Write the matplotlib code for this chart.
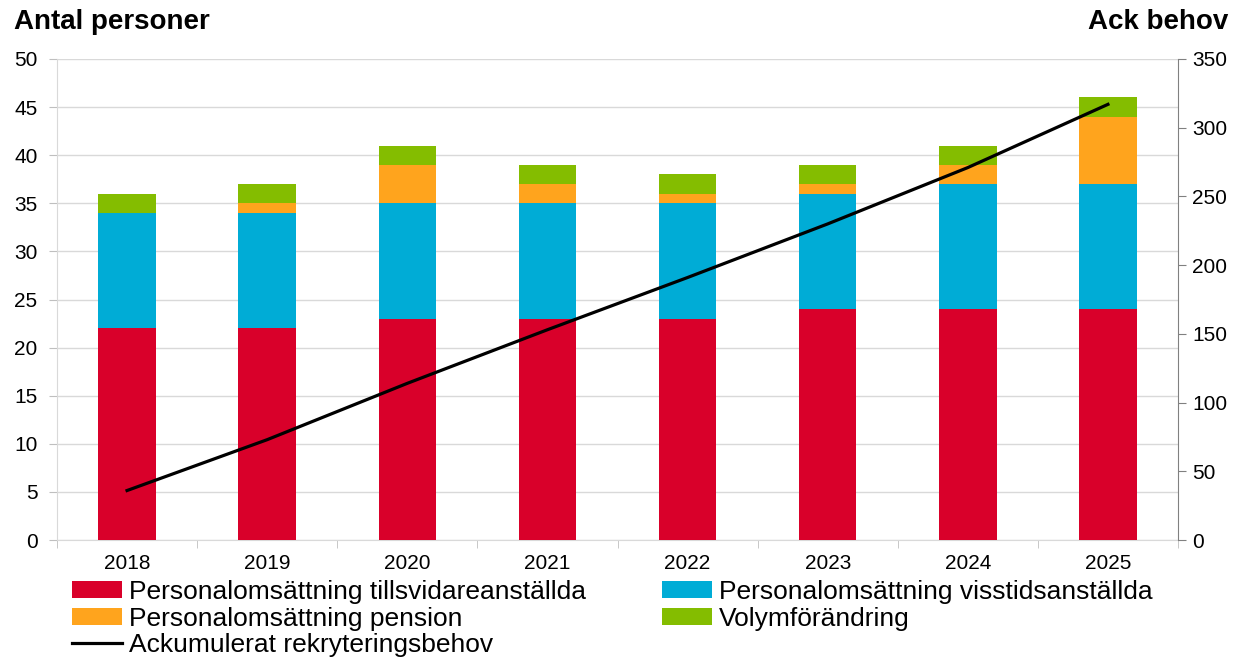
import matplotlib.pyplot as plt
import numpy as np

plt.rcParams['font.family'] = ['Liberation Sans', 'DejaVu Sans']

years = ['2018', '2019', '2020', '2021', '2022', '2023', '2024', '2025']
tillsvidare = [22, 22, 23, 23, 23, 24, 24, 24]
visstid = [12, 12, 12, 12, 12, 12, 13, 13]
pension = [0, 1, 4, 2, 1, 1, 2, 7]
volym = [2, 2, 2, 2, 2, 2, 2, 2]
ackumulerat = [36, 73, 114, 153, 191, 230, 271, 317]

colors = ['#d9002a', '#00acd6', '#ffa41d', '#84bd00']
labels = ['Personalomsättning tillsvidareanställda', 'Personalomsättning visstidsanställda',
          'Personalomsättning pension', 'Volymförändring']

fig = plt.figure(figsize=(12.39, 6.58), dpi=100)
ax = fig.add_axes([57 / 1239, 1 - 540 / 658, (1178 - 57) / 1239, (540 - 59) / 658])
x = np.arange(len(years))
w = 0.41

bottom = np.zeros(len(years))
bars = []
for vals, c, lab in zip([tillsvidare, visstid, pension, volym], colors, labels):
    b = ax.bar(x, vals, w, bottom=bottom, color=c, label=lab, zorder=3)
    bars.append(b)
    bottom += np.array(vals)

ax.set_xlim(-0.5, len(years) - 0.5)
ax.set_ylim(0, 50)
ax.set_yticks(range(0, 51, 5))
ax.grid(axis='y', color='#d9d9d9', linewidth=1, zorder=0)
ax.set_xticks(x)
ax.set_xticklabels(years)
ax.set_xticks(np.arange(-0.5, len(years), 1), minor=True)
ax.tick_params(axis='x', which='major', length=0, pad=10, labelsize=15)
ax.tick_params(axis='x', which='minor', length=6, color='#bfbfbf')
ax.tick_params(axis='y', length=6, color='#bfbfbf', labelsize=15, pad=8)
for s in ['top', 'right']:
    ax.spines[s].set_visible(False)
ax.spines['left'].set_color('#d9d9d9')
ax.spines['bottom'].set_color('#d9d9d9')

ax2 = ax.twinx()
line, = ax2.plot(x, ackumulerat, color='black', linewidth=2.3, label='Ackumulerat rekryteringsbehov', zorder=5)
ax2.set_ylim(0, 350)
ax2.set_yticks(range(0, 351, 50))
ax2.tick_params(axis='y', length=6, color='#808080', labelsize=15, pad=4)
for s in ['top', 'left', 'bottom']:
    ax2.spines[s].set_visible(False)
ax2.spines['right'].set_color('#808080')

fig.text(14 / 1239, 1 - 22 / 658, 'Antal personer', fontsize=20, fontweight='bold', va='center', ha='left')
fig.text(1228 / 1239, 1 - 22 / 658, 'Ack behov', fontsize=20, fontweight='bold', va='center', ha='right')

handles = [bars[0], bars[2], line, bars[1], bars[3]]
leg_labels = [labels[0], labels[2], 'Ackumulerat rekryteringsbehov', labels[1], labels[3]]
fig.legend(handles, leg_labels, ncol=2, loc='upper left', bbox_to_anchor=(72 / 1239, 1 - 580 / 658),
           frameon=False, fontsize=19, handlelength=1.9, handleheight=0.6, handletextpad=0.25,
           labelspacing=0.1, columnspacing=2.9, borderpad=0, borderaxespad=0)

fig.savefig('out.png', dpi=100)
